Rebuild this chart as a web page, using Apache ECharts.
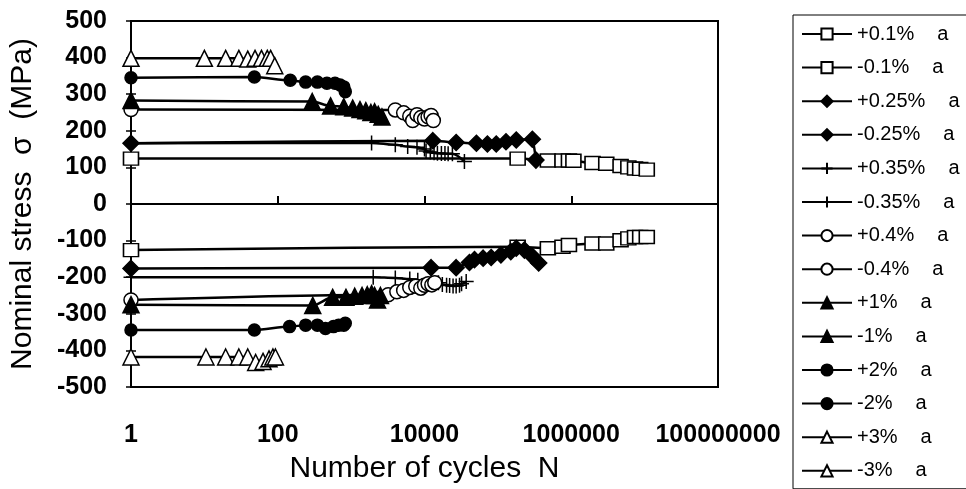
<!DOCTYPE html>
<html><head><meta charset="utf-8">
<script src="https://cdn.jsdelivr.net/npm/echarts@6/dist/echarts.min.js"></script>
<style>html,body{margin:0;padding:0;background:#fff}#c{width:966px;height:489px}</style>
</head><body><div id="c"></div>
<script>
// ---- data (cycles N, nominal stress MPa) ----
const names = ['+0.1%','-0.1%','+0.25%','-0.25%','+0.35%','-0.35%','+0.4%','-0.4%','+1%','-1%','+2%','-2%','+3%','-3%'];
const xTicks = [1, 100, 10000, 1000000, 100000000];
const yTicks = [-500,-400,-300,-200,-100,0,100,200,300,400,500];

const nP01 = [1, 186000, 480000, 760000, 930000, 1070000, 1950000, 3000000, 4700000, 6000000, 7400000, 8700000, 10700000];
const sP01 = [124, 124, 119, 119, 119, 118, 112, 110, 104, 100, 97, 96, 94];
const nM01 = [1, 186000, 480000, 760000, 930000, 1950000, 3000000, 4700000, 6000000, 7400000, 8700000, 10700000];
const sM01 = [-126, -117, -121, -117, -112, -108, -108, -99, -94, -90, -90, -90];

const nP025 = [1, 13000, 27000, 51000, 72000, 95000, 129000, 178000, 295000, 330000];
const sP025 = [166, 173, 168, 166, 164, 164, 170, 175, 177, 120];
const nM025 = [1, 12300, 27000, 41000, 48000, 63000, 81000, 110000, 150000, 178000, 230000, 295000, 360000];
const sM025 = [-176, -174, -174, -160, -152, -148, -146, -139, -130, -121, -126, -143, -161];

const nP035 = [1, 1900, 4000, 5900, 7900, 10000, 10500, 12000, 13500, 15000, 17000, 19000, 21000, 24000, 35000];
const sP035 = [166, 167, 162, 157, 155, 150, 145, 142, 140, 139, 138, 138, 137, 137, 116];
const nM035 = [1, 2000, 4000, 6300, 8100, 15500, 17500, 20000, 22000, 24500, 27000, 30000, 32000, 37000];
const sM035 = [-200, -200, -202, -205, -208, -215, -220, -222, -223, -224, -224, -222, -218, -212];

const nP04 = [1, 4000, 5200, 6300, 6900, 7900, 8900, 10000, 11200, 12300, 13200];
const sP04 = [258, 257, 249, 240, 228, 244, 236, 232, 238, 242, 228];
const nM04 = [1, 3200, 4200, 5200, 6300, 7600, 8900, 10000, 11200, 12600, 13800];
const sM04 = [-262, -248, -240, -236, -228, -225, -230, -222, -218, -221, -215];

const nP1 = [1, 295, 525, 794, 1050, 1320, 1585, 1860, 2090, 2340, 2630];
const sP1 = [283, 280, 268, 266, 262, 258, 255, 250, 252, 245, 238];
const nM1 = [1, 300, 560, 850, 1120, 1410, 1660, 1900, 2090, 2290, 2510];
const sM1 = [-275, -277, -255, -255, -252, -250, -248, -245, -250, -262, -250];

const nP2 = [1, 48, 148, 240, 347, 468, 603, 708, 794, 832];
const sP2 = [345, 347, 338, 333, 333, 330, 330, 325, 320, 307];
const nM2 = [1, 48, 145, 240, 347, 447, 575, 676, 794, 832];
const sM2 = [-344, -344, -335, -331, -331, -340, -335, -331, -331, -326];

const nP3 = [1, 10, 19.5, 29.5, 39, 49, 60, 72, 80, 91];
const sP3 = [398, 398, 398, 398, 396, 398, 398, 398, 398, 378];
const nM3 = [1, 10.5, 19.5, 29.5, 39, 50, 63, 76, 86, 93];
const sM3 = [-418, -418, -418, -418, -418, -433, -430, -423, -418, -418];

const seriesData = [[nP01,sP01],[nM01,sM01],[nP025,sP025],[nM025,sM025],[nP035,sP035],[nM035,sM035],
  [nP04,sP04],[nM04,sM04],[nP1,sP1],[nM1,sM1],[nP2,sP2],[nM2,sM2],[nP3,sP3],[nM3,sM3]];

// ---- styles ----
const FONT = 'Liberation Sans, Arial, sans-serif';
const PLUS = 'path://M10,0L10,20M0,10L20,10';
const markerStyles = [
  {symbol:'rect', size:[15,13], fill:'#fff'},
  {symbol:'rect', size:[15,13], fill:'#fff'},
  {symbol:'diamond', size:16, fill:'#000'},
  {symbol:'diamond', size:16, fill:'#000'},
  {symbol:PLUS, size:15, fill:'#000'},
  {symbol:PLUS, size:15, fill:'#000'},
  {symbol:'circle', size:14, fill:'#fff'},
  {symbol:'circle', size:14, fill:'#fff'},
  {symbol:'triangle', size:16, fill:'#000'},
  {symbol:'triangle', size:16, fill:'#000'},
  {symbol:'circle', size:12, fill:'#000'},
  {symbol:'circle', size:12, fill:'#000'},
  {symbol:'triangle', size:16, fill:'#fff'},
  {symbol:'triangle', size:16, fill:'#fff'}
];

const series = names.map((nm, i) => {
  const [xs, ys] = seriesData[i];
  const m = markerStyles[i];
  return {
    name: nm, type: 'line', smooth: 0.3, smoothMonotone: 'x',
    data: xs.map((x, k) => [x, ys[k]]),
    symbol: m.symbol, symbolSize: m.size, symbolKeepAspect: true, showAllSymbol: true,
    lineStyle: {color:'#000', width:2.5},
    itemStyle: {color: m.fill, borderColor:'#000', borderWidth:1.5},
    emphasis: {disabled:true}, animation:false
  };
});

const chart = echarts.init(document.getElementById('c'), null, {renderer:'canvas'});
chart.setOption({
  animation: false,
  backgroundColor: '#fff',
  grid: {left:128, right:248, top:21, bottom:94, show:true, borderColor:'#000', borderWidth:2, backgroundColor:'transparent'},
  xAxis: [{
    type:'log', logBase:100, min:xTicks[0], max:xTicks[xTicks.length-1],
    position:'bottom',
    axisLine:{show:true, onZero:false, lineStyle:{color:'#000', width:2}},
    axisTick:{show:false}, splitLine:{show:false}, minorTick:{show:false},
    axisLabel:{show:true, margin:36, color:'#000', fontFamily:FONT, fontWeight:'bold', fontSize:25,
      formatter: v => String(Math.round(v))},
    name:'Number of cycles  N', nameLocation:'middle', nameGap:67,
    nameTextStyle:{fontFamily:FONT, fontSize:30, color:'#000'}
  },{
    type:'log', logBase:100, min:xTicks[0], max:xTicks[xTicks.length-1],
    position:'bottom',
    axisLine:{show:true, onZero:true, onZeroAxisIndex:0, lineStyle:{color:'#000', width:2}},
    axisTick:{show:true, inside:true, length:8, lineStyle:{color:'#000', width:2}},
    axisLabel:{show:false}, splitLine:{show:false}
  }],
  yAxis: [{
    type:'value', min:yTicks[0], max:yTicks[yTicks.length-1], interval:100,
    axisLine:{show:true, lineStyle:{color:'#000', width:2}},
    axisTick:{show:true, inside:false, length:5, lineStyle:{color:'#000', width:1.5}},
    splitLine:{show:false},
    axisLabel:{margin:24, color:'#000', fontFamily:FONT, fontWeight:'bold', fontSize:25},
    name:'Nominal stress  σ  (MPa)', nameLocation:'middle', nameGap:93,
    nameTextStyle:{fontFamily:FONT, fontSize:30, color:'#000'}
  },{
    type:'value', min:yTicks[0], max:yTicks[yTicks.length-1], interval:100, position:'left',
    axisLine:{show:false}, axisTick:{show:true, inside:true, length:5, lineStyle:{color:'#000', width:1.5}},
    axisLabel:{show:false}, splitLine:{show:false}
  }],
  legend: {
    orient:'vertical', left:793, top:15, height:900,
    itemWidth:50, itemHeight:14, itemGap:13.6,
    padding:[9, 80, 8, 8],
    borderColor:'#000', borderWidth:1,
    textStyle:{fontFamily:FONT, fontSize:20, color:'#000', lineHeight:20,
      rich:{a:{fontFamily:FONT, fontSize:20, color:'#000', lineHeight:20, padding:[0,0,0,23]}}},
    formatter: n => n + '{a|a}',
    data: names
  },
  series: series
});
</script></body></html>
